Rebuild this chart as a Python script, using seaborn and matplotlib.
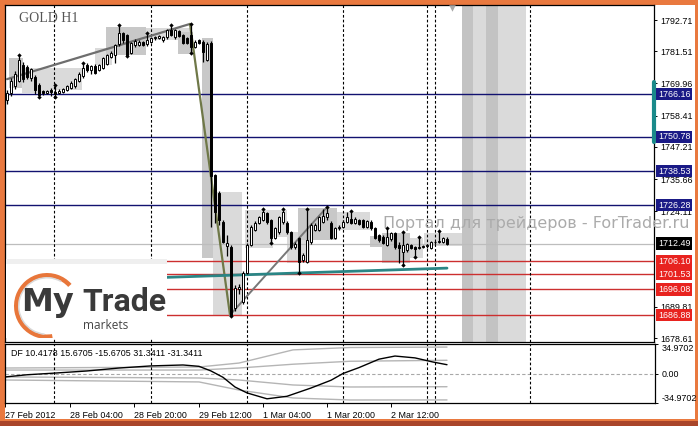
import matplotlib
matplotlib.use("Agg")
import matplotlib.pyplot as plt
import matplotlib.transforms as mtrans
from matplotlib.patches import Rectangle, Wedge
import numpy as np
import pandas as pd
import seaborn as sns

W, H = 698, 426

# ---------------- data ----------------
opens = [1764.0, 1766.5, 1769.0, 1771.0, 1776.5, 1776.0, 1772.0, 1772.3, 1769.4, 1767.2,
         1766.5, 1767.6, 1766.9, 1766.5, 1766.9, 1767.6, 1768.3, 1769.0, 1770.8, 1772.6,
         1776.6, 1774.8, 1776.2, 1774.8, 1775.5, 1777.0, 1779.4, 1780.1, 1784.0, 1788.0,
         1787.3, 1780.9, 1783.7, 1783.7, 1784.8, 1784.0, 1785.0, 1786.2, 1786.2, 1785.5,
         1786.6, 1789.1, 1786.6, 1788.7, 1787.3, 1786.2, 1787.3, 1783.0, 1785.5, 1784.8,
         1778.4, 1784.5, 1737.1, 1730.7, 1720.2, 1711.6, 1711.3, 1689.4, 1696.2, 1691.6,
         1701.9, 1712.0, 1717.4, 1719.9, 1721.0, 1723.5, 1721.0, 1714.5, 1716.7, 1720.2,
         1719.9, 1716.7, 1711.3, 1714.5, 1706.6, 1705.9, 1713.1, 1717.4, 1717.4, 1720.2,
         1722.0, 1719.9, 1714.5, 1718.1, 1718.5, 1720.2, 1721.5, 1719.9, 1721.0, 1721.0,
         1718.5, 1720.2, 1718.1, 1715.6, 1714.9, 1712.0, 1714.0, 1716.3, 1712.0, 1709.5,
         1710.2, 1712.0, 1711.3, 1710.9, 1711.3, 1711.6, 1710.9, 1712.9, 1713.1, 1713.1,
         1714.2]
highs = [1767.5, 1772.0, 1774.5, 1780.0, 1777.5, 1776.5, 1775.5, 1773.0, 1770.0, 1767.6,
         1767.6, 1768.3, 1769.4, 1767.9, 1768.3, 1769.4, 1770.8, 1772.0, 1774.0, 1777.3,
         1777.3, 1776.6, 1776.8, 1777.0, 1779.5, 1780.5, 1781.5, 1784.2, 1790.9, 1788.5,
         1787.8, 1785.0, 1785.8, 1785.5, 1785.2, 1788.0, 1786.6, 1787.0, 1787.3, 1787.0,
         1789.5, 1790.9, 1789.5, 1789.1, 1787.8, 1786.6, 1791.3, 1785.5, 1786.0, 1785.5,
         1784.8, 1785.2, 1737.5, 1731.5, 1721.0, 1715.6, 1712.0, 1697.5, 1698.0, 1702.5,
         1712.7, 1719.0, 1720.5, 1722.5, 1724.9, 1724.0, 1721.5, 1718.5, 1722.5, 1724.9,
         1720.5, 1717.0, 1713.0, 1715.0, 1709.0, 1724.9, 1719.8, 1720.0, 1722.5, 1724.9,
         1725.6, 1720.5, 1718.5, 1719.0, 1720.8, 1723.8, 1724.2, 1722.0, 1721.5, 1721.5,
         1721.0, 1720.8, 1718.5, 1716.0, 1715.5, 1718.1, 1716.5, 1716.8, 1713.0, 1716.7,
         1712.7, 1712.5, 1711.8, 1714.9, 1712.0, 1712.5, 1713.5, 1713.5, 1717.0, 1714.8,
         1714.9]
lows = [1762.5, 1765.5, 1768.0, 1770.5, 1770.5, 1771.5, 1771.0, 1766.0, 1765.2, 1765.8,
        1766.0, 1765.4, 1765.2, 1766.0, 1766.5, 1767.2, 1768.0, 1768.5, 1770.5, 1772.0,
        1774.0, 1773.5, 1773.3, 1774.5, 1775.0, 1776.5, 1779.0, 1777.3, 1783.5, 1784.5,
        1779.8, 1780.5, 1783.0, 1783.3, 1783.3, 1783.5, 1784.5, 1785.5, 1785.8, 1785.0,
        1786.0, 1787.0, 1786.0, 1786.6, 1784.0, 1784.0, 1780.9, 1782.5, 1784.0, 1777.6,
        1778.0, 1718.5, 1719.9, 1719.0, 1712.7, 1708.0, 1686.5, 1688.5, 1694.5, 1690.8,
        1701.5, 1711.5, 1717.0, 1719.5, 1720.5, 1719.5, 1712.7, 1714.0, 1716.0, 1719.5,
        1716.0, 1710.6, 1710.5, 1701.9, 1706.0, 1705.5, 1712.5, 1717.0, 1717.0, 1719.8,
        1721.0, 1714.0, 1714.0, 1717.5, 1718.0, 1719.8, 1719.5, 1719.5, 1719.0, 1718.0,
        1718.0, 1717.5, 1714.0, 1713.0, 1712.3, 1711.5, 1713.5, 1710.5, 1705.5, 1704.8,
        1709.5, 1710.5, 1707.7, 1710.5, 1711.0, 1711.0, 1710.5, 1712.5, 1712.7, 1712.7,
        1712.0]
closes = [1766.5, 1771.0, 1773.5, 1778.5, 1771.5, 1772.3, 1775.0, 1767.6, 1765.8, 1766.6,
          1767.2, 1766.9, 1766.2, 1767.2, 1767.9, 1769.0, 1770.1, 1771.5, 1773.3, 1775.5,
          1774.8, 1776.2, 1773.7, 1776.6, 1779.1, 1780.1, 1780.9, 1783.7, 1788.0, 1785.5,
          1780.1, 1784.5, 1785.2, 1784.8, 1783.7, 1785.5, 1786.2, 1786.6, 1786.8, 1786.6,
          1789.1, 1787.3, 1789.1, 1787.0, 1784.5, 1784.5, 1783.0, 1784.8, 1784.5, 1781.2,
          1784.0, 1736.8, 1723.8, 1721.0, 1713.1, 1712.7, 1686.9, 1696.5, 1696.8, 1701.9,
          1712.0, 1718.5, 1719.9, 1722.0, 1723.8, 1720.2, 1714.5, 1718.1, 1722.0, 1723.8,
          1716.7, 1711.3, 1712.4, 1705.9, 1708.4, 1713.8, 1719.2, 1719.2, 1722.0, 1722.5,
          1723.5, 1714.5, 1718.1, 1718.5, 1720.2, 1722.0, 1720.0, 1721.5, 1719.5, 1718.5,
          1720.5, 1718.1, 1714.5, 1713.8, 1712.7, 1714.9, 1716.3, 1711.3, 1710.9, 1712.0,
          1712.5, 1710.9, 1710.6, 1711.0, 1711.6, 1711.8, 1713.1, 1713.1, 1713.3, 1714.5,
          1712.49]

fractal_up = [3, 12, 19, 28, 35, 41, 46, 64, 69, 75, 80, 86, 95, 99, 103, 108]
fractal_dn = [8, 12, 30, 46, 56, 66, 73, 99, 102]

# higher-timeframe range boxes (bar index, price)
box_start = [0.5, 3.75, 10.75, 22.0, 24.75, 34.75, 42.75, 48.75, 51.5, 59.5, 66.5, 70.0, 72.75, 82.5, 90.75, 93.75, 100.75, 104.25]
box_end = [4.0, 10.75, 18.75, 26.25, 34.75, 45.75, 46.5, 51.5, 58.75, 66.5, 70.0, 75.75, 82.5, 90.75, 93.75, 100.75, 104.0, 113.75]
box_low = [1768.3, 1766.5, 1767.6, 1776.6, 1780.1, 1785.5, 1780.5, 1707.3, 1686.9, 1710.9, 1714.9, 1705.5, 1713.8, 1717.4, 1711.3, 1705.5, 1707.3, 1711.6]
box_high = [1779.1, 1775.5, 1775.5, 1782.7, 1790.2, 1789.8, 1788.4, 1786.2, 1731.0, 1724.6, 1724.6, 1716.7, 1725.3, 1723.8, 1715.2, 1716.3, 1714.5, 1716.3]
box_dark = [1, 0, 0, 0, 1, 0, 1, 1, 0, 0, 0, 0, 1, 0, 1, 1, 0, 0]

band_edges = [113.7, 116.5, 119.75, 122.75, 129.75]
band_dark = [1, 0, 1, 0]

trend1_x, trend1_y = [0, 45.75], [1771.5, 1791.3]
trend2_x, trend2_y = [45.75, 55.75], [1791.3, 1686.9]
trend3_x, trend3_y = [55.75, 80.0], [1686.9, 1725.6]
teal_x, teal_y = [40.0, 110.0], [1700.4, 1703.7]

blue_levels = [1766.16, 1750.78, 1738.53, 1726.28]
red_levels = [1706.10, 1701.53, 1696.08, 1686.88]
last_price = 1712.49
price_ticks = [1792.71, 1781.51, 1769.96, 1758.41, 1747.21, 1735.66, 1724.11, 1689.81, 1678.61]

separators = [11.75, 36.0, 60.0, 84.0, 105.0, 107.0, 130.75]
time_pos = [-0.5, 15.75, 31.75, 48.0, 64.0, 80.0, 96.0]
time_labels = ["27 Feb 2012", "28 Feb 04:00", "28 Feb 20:00", "29 Feb 12:00",
               "1 Mar 04:00", "1 Mar 20:00", "2 Mar 12:00"]

df_x = [-0.5, 5, 12, 20, 28, 36, 44, 48, 51, 54, 57, 60, 65, 70, 76, 81, 84, 88, 93, 97, 102, 106.5, 110]
df_v = [-4.1, -1.5, 0.5, 3.0, 6.5, 9.0, 10.1, 8.5, 3.0, -4.5, -16.0, -23.0, -30.0, -27.0, -17.2, -8.0, 0.0, 7.0, 17.0, 20.7, 18.5, 13.6, 10.42]
band_x = [-0.5, 48, 58, 71.5, 85.75, 110]
up2 = [6.5, 7.7, 12.4, 28.0, 30.8, 31.34]
up1 = [4.1, 4.1, 6.5, 11.0, 14.5, 15.67]
dn1 = [-4.1, -5.3, -7.7, -13.6, -16.0, -15.67]
dn2 = [-7.7, -10.0, -19.6, -29.0, -31.4, -31.34]
ind_max = 34.9702

# ---------------- style ----------------
sns.set_theme(style="white", rc={"axes.edgecolor": "black", "axes.linewidth": 0.9})
plt.rcParams['font.family'] = ['Liberation Sans', 'DejaVu Sans']

fig = plt.figure(figsize=(W / 100, H / 100), dpi=100)
fig.patch.set_facecolor('#e9793f')


def frac(x0, y0, x1, y1):
    return [x0 / W, 1 - y1 / H, (x1 - x0) / W, (y1 - y0) / H]


fig.add_artist(Rectangle((5 / W, 1 - 419 / H), 690 / W, 414 / H, transform=fig.transFigure,
                         fc='white', ec='none', zorder=-2))
fig.add_artist(Rectangle((0, 0), 1, 5 / H, transform=fig.transFigure,
                         fc='#a9452a', ec='none', zorder=-2))

ax1 = fig.add_axes(frac(5, 5, 654, 342))
ax2 = fig.add_axes(frac(5, 344, 655, 403))
for ax in (ax1, ax2):
    ax.set_facecolor('white')
    for s in ax.spines.values():
        s.set_color('black')
        s.set_linewidth(0.9)

XL = (-0.5, 161.75)
ax1.set_xlim(*XL)
ax1.set_ylim(1677.2, 1798.1)
ax2.set_xlim(-0.5, 162.0)
ax2.set_ylim(-ind_max, ind_max)

# bands on the right
for i, d in enumerate(band_dark):
    ax1.axvspan(band_edges[i], band_edges[i + 1], color='#c3c3c3' if d else '#dadada', lw=0, zorder=1)

# boxes
for x0, x1, lo, hi, d in zip(box_start, box_end, box_low, box_high, box_dark):
    ax1.add_patch(Rectangle((x0, lo), x1 - x0, hi - lo, fc='#c8c8c8' if d else '#dadada',
                            ec='none', zorder=1))

# horizontal levels
for lv in blue_levels:
    ax1.axhline(lv, color='#121270', lw=1.0, zorder=2)
for lv in red_levels:
    ax1.axhline(lv, color='#cc2f2f', lw=1.0, zorder=2)
ax1.axhline(last_price, color='#bdbdbd', lw=0.9, zorder=2)

# separators
dash = (0, (2.4, 1.9))
for sx in separators:
    ax1.axvline(sx, color='black', lw=0.8, ls=dash, zorder=2.5)
    ax2.axvline(sx, color='black', lw=0.8, ls=dash, zorder=2.5)

# trend lines
sns.lineplot(x=trend1_x, y=trend1_y, ax=ax1, color='#6e6e6e', lw=1.6, zorder=3)
sns.lineplot(x=trend2_x, y=trend2_y, ax=ax1, color='#6f7848', lw=1.6, zorder=3)
sns.lineplot(x=trend3_x, y=trend3_y, ax=ax1, color='#777777', lw=1.4, zorder=3)
sns.lineplot(x=teal_x, y=teal_y, ax=ax1, color='#2a8585', lw=2.0, zorder=3)

# candles
cd = pd.DataFrame({'o': opens, 'h': highs, 'l': lows, 'c': closes})
cd['i'] = np.arange(len(cd))
ax1.vlines(cd['i'], cd['l'], cd['h'], color='black', lw=0.9, zorder=4)
body_lo = np.minimum(cd['o'], cd['c'])
body_h = np.maximum(np.abs(cd['c'] - cd['o']), 0.35)
cols = np.where(cd['c'] >= cd['o'], 'white', 'black')
ax1.bar(cd['i'], body_h, bottom=body_lo, width=0.62, color=cols, edgecolor='black',
        linewidth=0.7, zorder=4.5)
ax1.scatter([i for i in fractal_up], [highs[i] for i in fractal_up], marker='D', s=5,
            color='black', zorder=5, lw=0)
ax1.scatter([i for i in fractal_dn], [lows[i] for i in fractal_dn], marker='D', s=5,
            color='black', zorder=5, lw=0)
ax1.scatter([111.25], [1797.0], marker='v', s=22, color='#a8a8a8', zorder=5, lw=0)

ax1.legend().remove() if ax1.get_legend() else None
ax1.set_xticks([])
ax1.set_xlabel('')
ax1.set_ylabel('')
ax1.yaxis.tick_right()
ax1.set_yticks(price_ticks)
ax1.set_yticklabels([f"{v:.2f}" for v in price_ticks])
ax1.tick_params(axis='y', direction='out', length=2.5, width=0.7, pad=2, labelsize=6.4,
                colors='black', right=True, left=False)

# teal marker bar on axis
bt = mtrans.blended_transform_factory(ax1.transAxes, ax1.transData)
ax1.plot([1.0, 1.0], [1748.9, 1770.5], transform=bt, color='#1a8a8a', lw=3, clip_on=False, zorder=6)

# level labels
for lv in blue_levels:
    ax1.text(1.0065, lv, f"{lv:.2f}", transform=bt, ha='left', va='center', fontsize=6.4,
             color='white', zorder=7, clip_on=False,
             bbox=dict(boxstyle='square,pad=0.2', fc='#1a1a86', ec='none'))
for lv in red_levels:
    ax1.text(1.0065, lv, f"{lv:.2f}", transform=bt, ha='left', va='center', fontsize=6.4,
             color='white', zorder=7, clip_on=False,
             bbox=dict(boxstyle='square,pad=0.2', fc='#e8231f', ec='none'))
ax1.text(1.0065, last_price, f"{last_price:.2f}", transform=bt, ha='left', va='center',
         fontsize=6.4, color='white', zorder=7, clip_on=False,
         bbox=dict(boxstyle='square,pad=0.2', fc='black', ec='none'))

# indicator panel
ax2.axhline(0, color='#a8a8a8', lw=0.8, ls=(0, (3, 2)), zorder=1)
for series in (up2, up1, dn1, dn2):
    sns.lineplot(x=band_x, y=series, ax=ax2, color='#b5b5b5', lw=1.0, zorder=2)
sns.lineplot(x=df_x, y=df_v, ax=ax2, color='black', lw=1.0, zorder=3)
ax2.set_xlabel('')
ax2.set_ylabel('')
ax2.yaxis.tick_right()
ax2.set_yticks([ind_max, 0, -ind_max])
ax2.set_yticklabels(["34.9702", "0.00", "-34.9702"])
ylabs = ax2.get_yticklabels()
ylabs[0].set_va('top')
ylabs[2].set_va('bottom')
ax2.tick_params(axis='y', direction='out', length=2.5, width=0.7, pad=2, labelsize=6.4,
                colors='black', right=True, left=False)
ax2.set_xticks(time_pos)
ax2.set_xticklabels(time_labels, ha='left')
ax2.tick_params(axis='x', direction='out', length=3, width=0.7, pad=2.5, labelsize=6.4,
                colors='black', bottom=True)

fig.text(11 / W, 1 - 353 / H, "DF 10.4178 15.6705 -15.6705 31.3411 -31.3411",
         fontsize=6.4, color='black', va='center', ha='left')

# titles / watermark
fig.text(19 / W, 1 - 18 / H, "GOLD H1", fontsize=10, color='#555555', va='center', ha='left',
         family=['Liberation Serif', 'DejaVu Serif'])
fig.text(383 / W, 1 - 228 / H, "Портал для трейдеров - ForTrader.ru", fontsize=11.5,
         color='#ababab', va='baseline', ha='left', family=['DejaVu Sans'])

# logo
lax = fig.add_axes(frac(6, 259, 167, 338))
lax.set_zorder(5)
lax.set_xlim(6, 167)
lax.set_ylim(338, 259)
lax.axis('off')
lax.add_patch(Rectangle((6, 259), 161, 79, fc='white', ec='none'))
lax.add_patch(Rectangle((6, 259), 161, 5, fc='#efefef', ec='none'))
lax.add_patch(Wedge((47, 306), 33, 80, 318, width=4.5, fc='#e8763a', ec='none'))
lax.add_patch(Wedge((47, 306), 29, 95, 300, width=1.5, fc='#d9d9d9', ec='none'))
lax.text(21, 311, "My", fontsize=23, fontweight='bold', color='#3a3a3a', va='baseline',
         ha='left', family=['DejaVu Sans'])
lax.text(82, 311, "Trade", fontsize=23, fontweight='bold', color='#3a3a3a', va='baseline',
         ha='left', family=['Roboto', 'DejaVu Sans'])
lax.text(83, 329, "markets", fontsize=8.5, color='#444444', va='baseline', ha='left',
         family=['Open Sans', 'DejaVu Sans'])

fig.savefig('out.png', dpi=100, facecolor=fig.get_facecolor())
